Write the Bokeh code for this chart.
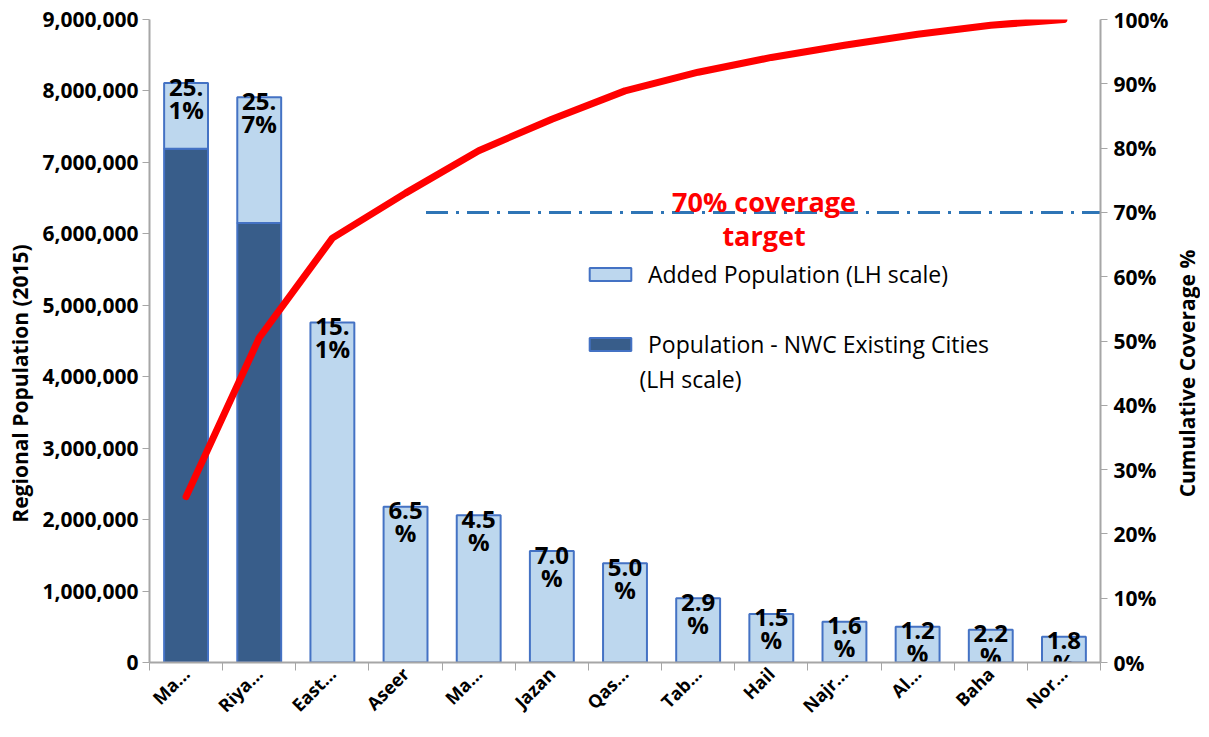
from math import pi
from bokeh.plotting import figure
from bokeh.layouts import row
from bokeh.models import (Range1d, LinearAxis, FixedTicker, NumeralTickFormatter,
                          PrintfTickFormatter, Legend, LegendItem, ColumnDataSource, Label)
from bokeh.core.properties import value
from bokeh.embed import file_html
from bokeh.resources import INLINE

# ---------------- data ----------------
regions = ["Ma…", "Riya…", "East…", "Aseer", "Ma…", "Jazan", "Qas…",
           "Tab…", "Hail", "Najr…", "Al…", "Baha", "Nor…"]
existing_pop = [7190000, 6150000, 0, 0, 0, 0, 0, 0, 0, 0, 0, 0, 0]
added_pop = [920000, 1760000, 4760000, 2180000, 2060000, 1560000, 1390000,
             900000, 680000, 570000, 500000, 460000, 360000]
cumulative_pct = [25.8, 50.5, 66.0, 73.0, 79.6, 84.5, 88.9, 91.8, 94.1, 96.0, 97.7, 99.1, 100.0]
share_labels = ["25.1%", "25.7%", "15.1%", "6.5%", "4.5%", "7.0%", "5.0%",
                "2.9%", "1.5%", "1.6%", "1.2%", "2.2%", "1.8%"]
target_pct = 70
left_ticks = [0, 1000000, 2000000, 3000000, 4000000, 5000000, 6000000, 7000000, 8000000, 9000000]
right_ticks = [0, 10, 20, 30, 40, 50, 60, 70, 80, 90, 100]
left_title = "Regional Population (2015)"
right_title = "Cumulative Coverage %"

# ---------------- derived ----------------
n = len(regions)
idx = list(range(n))
total_pop = [e + a for e, a in zip(existing_pop, added_pop)]
src = ColumnDataSource(dict(
    x=idx, existing=existing_pop, total=total_pop, cum=cumulative_pct,
    lab1=[s[:3] for s in share_labels], lab2=[s[3:] for s in share_labels],
))

FONT = "Open Sans"
LIGHT = "#BDD7EE"
DARK = "#385D8A"
EDGE = "#4472C4"
AXIS = "#A6A6A6"
H = 729
LW, MW, RW = 36, 1135, 29

p = figure(width=MW, height=H, output_backend="svg", toolbar_location=None,
           x_range=Range1d(-0.5, n - 0.5), y_range=Range1d(0, 9000000),
           min_border_left=113, min_border_right=66, min_border_top=19, min_border_bottom=63,
           x_axis_location=None, y_axis_location=None)
p.extra_y_ranges = {"pct": Range1d(0, 100)}
p.xgrid.visible = False
p.ygrid.visible = False
p.outline_line_color = None
p.background_fill_color = "white"

# axes
xax = LinearAxis(ticker=FixedTicker(ticks=idx, minor_ticks=[i - 0.5 for i in range(n + 1)]),
                 major_label_overrides={i: regions[i] for i in idx})
xax.major_tick_out = 0
xax.major_tick_in = 0
xax.minor_tick_out = 8
xax.minor_tick_in = 0
xax.minor_tick_line_color = AXIS
xax.axis_line_color = AXIS
xax.axis_line_width = 2
xax.major_label_orientation = pi / 4
xax.major_label_standoff = 0
xax.major_label_text_font = FONT
xax.major_label_text_font_style = "bold"
xax.major_label_text_font_size = "18px"
xax.major_label_text_color = "black"
p.add_layout(xax, "below")

yax = LinearAxis(ticker=FixedTicker(ticks=left_ticks), formatter=NumeralTickFormatter(format="0,0"))
yax.major_tick_out = 7
yax.major_tick_in = 0
yax.major_tick_line_color = AXIS
yax.axis_line_color = AXIS
yax.axis_line_width = 2
yax.minor_tick_line_color = None
yax.major_label_standoff = 4
yax.major_label_text_font = FONT
yax.major_label_text_font_style = "bold"
yax.major_label_text_font_size = "21px"
yax.major_label_text_color = "black"
p.add_layout(yax, "left")

rax = LinearAxis(y_range_name="pct", ticker=FixedTicker(ticks=right_ticks),
                 formatter=PrintfTickFormatter(format="%d%%"))
rax.major_tick_out = 7
rax.major_tick_in = 0
rax.major_tick_line_color = AXIS
rax.axis_line_color = AXIS
rax.axis_line_width = 2
rax.minor_tick_line_color = None
rax.major_label_standoff = 6
rax.major_label_text_font = FONT
rax.major_label_text_font_style = "bold"
rax.major_label_text_font_size = "21px"
rax.major_label_text_color = "black"
p.add_layout(rax, "right")

# bars
r_exist = p.vbar(x="x", bottom=0, top="existing", width=0.6, source=src,
                 fill_color=DARK, line_color=EDGE, line_width=2)
r_added = p.vbar(x="x", bottom="existing", top="total", width=0.6, source=src,
                 fill_color=LIGHT, line_color=EDGE, line_width=2)

# target line
p.segment(x0=[3.28], y0=[target_pct], x1=[n - 0.5], y1=[target_pct], y_range_name="pct",
          line_color="#2E75B6", line_width=3, line_dash="22 8 3 8")
p.text(x=[7.9], y=[target_pct], text=["70% coverage"], y_range_name="pct",
       text_font=value(FONT), text_font_style="bold", text_font_size="27px",
       text_color="#FF0000", text_align="center", text_baseline="middle", y_offset=-11)
p.text(x=[7.9], y=[target_pct], text=["target"], y_range_name="pct",
       text_font=value(FONT), text_font_style="bold", text_font_size="27px",
       text_color="#FF0000", text_align="center", text_baseline="middle", y_offset=23)

# cumulative line
p.line(x="x", y="cum", source=src, y_range_name="pct", line_color="#FF0000",
       line_width=7, line_join="round", line_cap="round")

# bar labels
p.text(x="x", y="total", text="lab1", source=src, text_font=value(FONT),
       text_font_style="bold", text_font_size="24px", text_color="black",
       text_align="center", text_baseline="alphabetic", y_offset=4)
p.text(x="x", y="total", text="lab2", source=src, text_font=value(FONT),
       text_font_style="bold", text_font_size="24px", text_color="black",
       text_align="center", text_baseline="middle", y_offset=26)

# legend
legend = Legend(items=[LegendItem(label="Added Population (LH scale)", renderers=[r_added]),
                       LegendItem(label="Population - NWC Existing Cities", renderers=[r_exist])],
                location=(435, 302), orientation="vertical",
                glyph_width=52, glyph_height=16, label_standoff=12, spacing=38,
                label_text_font=FONT, label_text_font_size="23px", label_text_color="black",
                border_line_color=None, background_fill_alpha=0, padding=0, margin=0)
p.add_layout(legend, "center")
p.add_layout(Label(x=490, y=284, x_units="screen", y_units="screen", text="(LH scale)",
                   text_font=FONT, text_font_size="23px", text_color="black",
                   text_baseline="middle"))


# side panels holding the rotated axis titles (frames align with the main plot's frame)
def title_panel(w, text, x, y, size):
    f = figure(width=w, height=H, output_backend="svg", toolbar_location=None,
               x_axis_location=None, y_axis_location=None,
               min_border_left=0, min_border_right=0, min_border_top=0, min_border_bottom=0)
    f.xgrid.visible = False
    f.ygrid.visible = False
    f.outline_line_color = None
    f.add_layout(Label(x=x, y=y, x_units="screen", y_units="screen", text=text, angle=pi / 2,
                       text_font=FONT, text_font_style="bold", text_font_size=size,
                       text_color="black", text_align="center", text_baseline="middle"))
    return f


left_panel = title_panel(LW, left_title, 19, 279, "21px")
right_panel = title_panel(RW, right_title, 15, 289, "21px")

layout = row(left_panel, p, right_panel)
open("out.html", "w").write(file_html(layout, INLINE))
